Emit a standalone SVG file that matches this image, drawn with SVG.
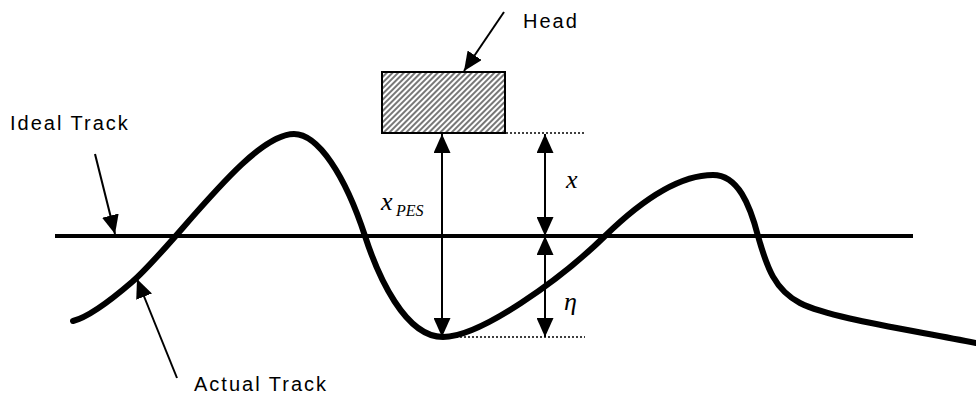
<svg xmlns="http://www.w3.org/2000/svg" width="976" height="399" viewBox="0 0 976 399">
<style>
.lbl{font-family:"Liberation Sans",Arial,sans-serif;font-size:20px;letter-spacing:2px;fill:#000}
.math{font-family:"Liberation Serif","Times New Roman",serif;font-style:italic;fill:#000}
.arr{stroke:#000;stroke-width:2;fill:none}
.dot{stroke:#000;stroke-width:1.5;stroke-dasharray:2 2;fill:none}
</style>
<defs>
<pattern id="hatch" patternUnits="userSpaceOnUse" width="4" height="4" patternTransform="rotate(45)">
<rect width="4" height="4" fill="#fff"/>
<line x1="1" y1="0" x2="1" y2="4" stroke="#555" stroke-width="1.6"/>
</pattern>
<marker id="ah" markerUnits="userSpaceOnUse" markerWidth="19" markerHeight="17" refX="19" refY="8.5" orient="auto-start-reverse">
<path d="M0 0 L19 8.5 L0 17 z" fill="#000"/>
</marker>
</defs>
<g id="ideal-track">
<line x1="55" y1="236" x2="913" y2="236" stroke="#000" stroke-width="4"/>
</g>
<g id="actual-track">
<path d="M73 321 C85 318 103 307 132 282 C175 245 250 134 294 134 C318 134 345 175 365 236 C378 276 405 337 443 337 C480 337 560 280 605 236 C650 192 685 175 713 175 C738 175 750 205 758 236 C767 268 775 290 800 303 C830 318 900 328 976 343" fill="none" stroke="#000" stroke-width="6" stroke-linecap="round" stroke-linejoin="round"/>
</g>
<g id="head">
<rect x="382" y="72" width="123" height="61" fill="url(#hatch)" stroke="#000" stroke-width="2"/>
</g>
<g id="connectors">
<line class="arr" x1="504" y1="12" x2="464" y2="71" marker-end="url(#ah)"/>
<line class="arr" x1="95" y1="154" x2="115" y2="234" marker-end="url(#ah)"/>
<line class="arr" x1="177" y1="378" x2="137" y2="279" marker-end="url(#ah)"/>
<line class="arr" x1="442" y1="134" x2="442" y2="337" marker-start="url(#ah)" marker-end="url(#ah)"/>
<line class="arr" x1="545" y1="134" x2="545" y2="236" marker-start="url(#ah)" marker-end="url(#ah)"/>
<line class="arr" x1="545" y1="236" x2="545" y2="337" marker-start="url(#ah)" marker-end="url(#ah)"/>
<line class="dot" x1="506" y1="133" x2="585" y2="133"/>
<line class="dot" x1="452" y1="337" x2="585" y2="337"/>
</g>
<g id="labels">
<text class="lbl" x="523" y="28">Head</text>
<text class="lbl" x="10" y="130">Ideal Track</text>
<text class="lbl" x="194" y="391">Actual Track</text>
<text class="math" x="381" y="210" font-size="26">x</text>
<text class="math" x="396" y="216" font-size="16">PES</text>
<text class="math" x="566" y="188" font-size="26">x</text>
<text class="math" x="564" y="310" font-size="26">η</text>
</g>
</svg>
